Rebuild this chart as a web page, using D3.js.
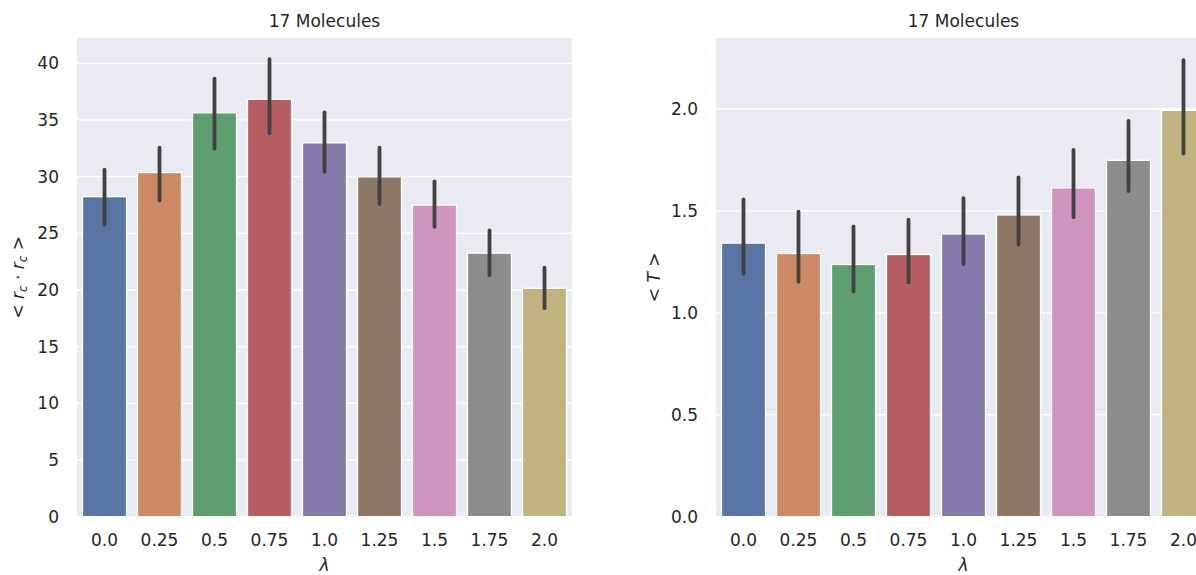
<!DOCTYPE html>
<html>
<head>
<meta charset="utf-8">
<script src="https://cdn.jsdelivr.net/npm/d3@7"></script>
<style>
  html, body { margin: 0; padding: 0; background: #ffffff; }
  svg { display: block; font-family: "DejaVu Sans", sans-serif; }
</style>
</head>
<body>
<svg id="chart" width="1196" height="575"></svg>
<script>
// Coupling strength λ categories
const lambdas = ["0.0", "0.25", "0.5", "0.75", "1.0", "1.25", "1.5", "1.75", "2.0"];

// Left panel: <r_c · r_c> means with confidence intervals
const rcMean = [28.23, 30.36, 35.63, 36.83, 32.98, 29.98, 27.49, 23.25, 20.15];
const rcLow  = [25.77, 27.90, 32.47, 33.82, 30.43, 27.58, 25.58, 21.31, 18.40];
const rcHigh = [30.62, 32.56, 38.64, 40.36, 35.67, 32.56, 29.59, 25.25, 21.96];
const rcTicks = [0, 5, 10, 15, 20, 25, 30, 35, 40];

// Right panel: <T> means with confidence intervals
const tMean = [1.342, 1.291, 1.237, 1.286, 1.387, 1.480, 1.613, 1.748, 1.993];
const tLow  = [1.192, 1.153, 1.104, 1.149, 1.239, 1.335, 1.469, 1.597, 1.781];
const tHigh = [1.556, 1.496, 1.424, 1.457, 1.563, 1.664, 1.799, 1.941, 2.239];
const tTicks = [0.0, 0.5, 1.0, 1.5, 2.0];

const palette = ["#5975a4", "#cc8963", "#5f9e6e", "#b55d60", "#857aab",
                 "#8d7866", "#d095bf", "#8c8c8c", "#c1b37f"];

const svg = d3.select("#chart");
const textColor = "#262626";
const fontSize = 17;

function panel(opts) {
  const { x0, x1, y0, y1, yMax, ticks, fmt, mean, low, high, title, yLabel } = opts;
  const g = svg.append("g");

  const x = d3.scaleBand().domain(lambdas).range([x0, x1]).padding(0);
  const y = d3.scaleLinear().domain([0, yMax]).range([y1, y0]);

  // plot background
  g.append("rect")
    .attr("x", x0).attr("y", y0)
    .attr("width", x1 - x0).attr("height", y1 - y0)
    .attr("fill", "#eaeaf2");

  // horizontal grid
  g.append("g").selectAll("line").data(ticks).join("line")
    .attr("x1", x0).attr("x2", x1)
    .attr("y1", d => y(d)).attr("y2", d => y(d))
    .attr("stroke", "#ffffff").attr("stroke-width", 1.3);

  // bars
  const bw = x.bandwidth() * 0.8;
  g.append("g").selectAll("rect").data(mean).join("rect")
    .attr("x", (d, i) => x(lambdas[i]) + (x.bandwidth() - bw) / 2)
    .attr("y", d => y(d))
    .attr("width", bw)
    .attr("height", d => y(0) - y(d))
    .attr("fill", (d, i) => palette[i])
    .attr("stroke", "#ffffff").attr("stroke-width", 1.3);

  // confidence intervals
  g.append("g").selectAll("line").data(mean).join("line")
    .attr("x1", (d, i) => x(lambdas[i]) + x.bandwidth() / 2)
    .attr("x2", (d, i) => x(lambdas[i]) + x.bandwidth() / 2)
    .attr("y1", (d, i) => y(low[i]))
    .attr("y2", (d, i) => y(high[i]))
    .attr("stroke", "#424242").attr("stroke-width", 3.8)
    .attr("stroke-linecap", "round");

  // y axis
  const ya = g.append("g").attr("transform", `translate(${x0},0)`)
    .call(d3.axisLeft(y).tickValues(ticks).tickFormat(fmt).tickSize(0).tickPadding(18));
  ya.select(".domain").remove();
  ya.selectAll("text").attr("fill", textColor).attr("font-size", fontSize)
    .attr("font-family", "DejaVu Sans");

  // x axis
  const xa = g.append("g").attr("transform", `translate(0,${y1})`)
    .call(d3.axisBottom(x).tickSize(0).tickPadding(17));
  xa.select(".domain").remove();
  xa.selectAll("text").attr("fill", textColor).attr("font-size", fontSize)
    .attr("font-family", "DejaVu Sans");

  // title
  g.append("text")
    .attr("x", (x0 + x1) / 2).attr("y", 27)
    .attr("text-anchor", "middle")
    .attr("fill", textColor).attr("font-size", fontSize)
    .text(title);

  // x label
  g.append("text")
    .attr("x", (x0 + x1) / 2).attr("y", 571)
    .attr("text-anchor", "middle")
    .attr("fill", textColor).attr("font-size", fontSize)
    .attr("font-style", "italic")
    .text("λ");

  // y label
  const yl = g.append("text")
    .attr("transform", `translate(${yLabel.x},${(y0 + y1) / 2}) rotate(-90)`)
    .attr("text-anchor", "middle")
    .attr("fill", textColor).attr("font-size", fontSize);
  yLabel.parts.forEach(p => {
    const t = yl.append("tspan").text(p.t);
    if (p.it) t.attr("font-style", "italic");
    if (p.sub) t.attr("font-size", fontSize * 0.7).attr("baseline-shift", "-25%");
  });
}

panel({
  x0: 77, x1: 572, y0: 38, y1: 516.7, yMax: 42.23,
  ticks: rcTicks, fmt: d3.format("d"),
  mean: rcMean, low: rcLow, high: rcHigh,
  title: "17 Molecules",
  yLabel: { x: 24, parts: [
    { t: "< " }, { t: "r", it: true }, { t: "c", it: true, sub: true },
    { t: " · " }, { t: "r", it: true }, { t: "c", it: true, sub: true }, { t: " >" }
  ] }
});

panel({
  x0: 716, x1: 1211, y0: 38, y1: 516.7, yMax: 2.348,
  ticks: tTicks, fmt: d3.format(".1f"),
  mean: tMean, low: tLow, high: tHigh,
  title: "17 Molecules",
  yLabel: { x: 660, parts: [
    { t: "< " }, { t: "T", it: true }, { t: " >" }
  ] }
});
</script>
</body>
</html>
